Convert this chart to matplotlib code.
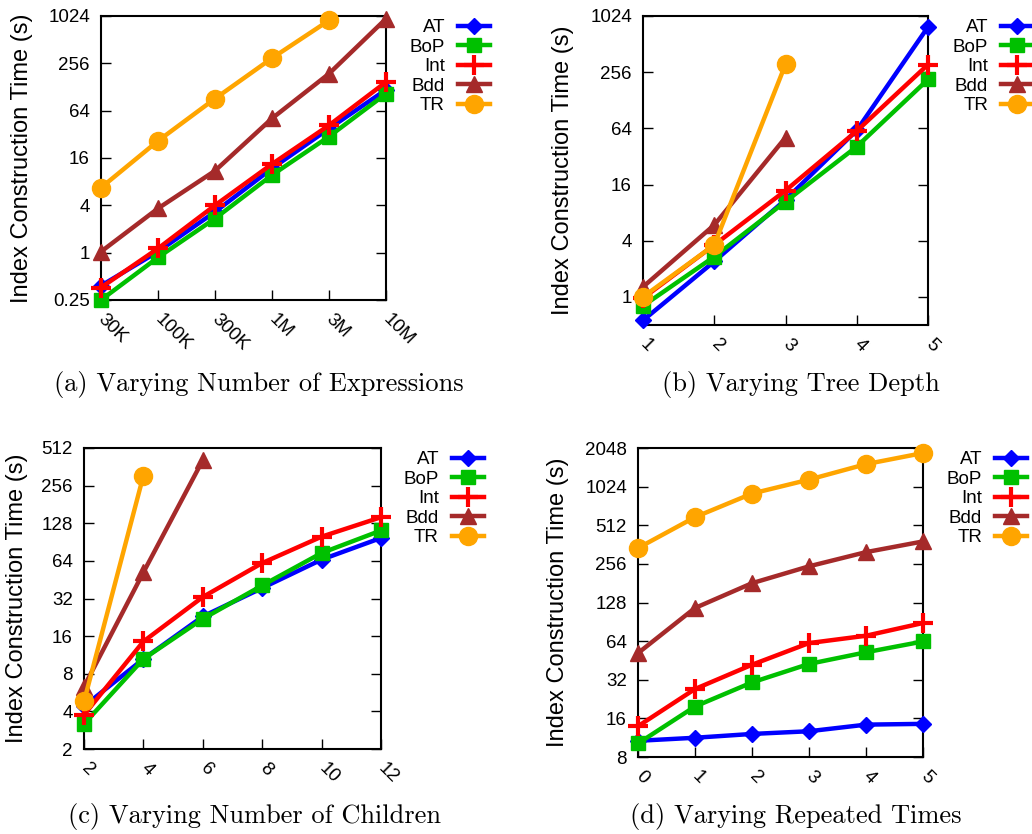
import matplotlib
matplotlib.use("Agg")
import matplotlib.pyplot as plt
from matplotlib.lines import Line2D
import numpy as np

plt.rcParams['font.family'] = ['Liberation Sans', 'DejaVu Sans']

series_names = ["AT", "BoP", "Int", "Bdd", "TR"]

# (a) number of expressions
a_labels = ["30K", "100K", "300K", "1M", "3M", "10M"]
a_AT = [0.38, 1.03, 3.3, 11.8, 37.8, 118]
a_BoP = [0.25, 0.87, 2.72, 9.7, 30, 105]
a_Int = [0.36, 1.13, 4.0, 13.4, 41.7, 148]
a_Bdd = [1.03, 3.65, 11, 51, 189, 944]
a_TR = [6.7, 26.4, 91, 298, 900]

# (b) tree depth
b_labels = ["1", "2", "3", "4", "5"]
b_AT = [0.56, 2.4, 11, 61, 781]
b_BoP = [0.8, 2.7, 10.5, 40.8, 214]
b_Int = [0.97, 3.6, 13.8, 60, 309]
b_Bdd = [1.28, 5.9, 51]
b_TR = [1.0, 3.6, 311]

# (c) number of children
c_labels = ["2", "4", "6", "8", "10", "12"]
c_AT = [4.4, 10.5, 23, 38.8, 65.5, 97.6]
c_BoP = [3.17, 10.5, 22, 40.7, 74, 112]
c_Int = [3.75, 14.5, 32.9, 61.5, 100, 143]
c_Bdd = [6.3, 51.8, 409]
c_TR = [4.8, 308]

# (d) repeated times
d_labels = ["0", "1", "2", "3", "4", "5"]
d_AT = [10.7, 11.3, 12.1, 12.7, 14.3, 14.5]
d_BoP = [10.2, 19.8, 30.5, 42.5, 52.4, 63.6]
d_Int = [13.9, 27.1, 41.9, 61.8, 70.5, 88.6]
d_Bdd = [51.6, 116, 181, 245, 316, 383]
d_TR = [340, 592, 904, 1161, 1533, 1871]

a_yticks = [0.25, 1, 4, 16, 64, 256, 1024]
a_yticklabels = ["0.25", "1", "4", "16", "64", "256", "1024"]
b_yticks = [1, 4, 16, 64, 256, 1024]
c_yticks = [2, 4, 8, 16, 32, 64, 128, 256, 512]
d_yticks = [8, 16, 32, 64, 128, 256, 512, 1024, 2048]

captions = ["(a) Varying Number of Expressions",
            "(b) Varying Tree Depth",
            "(c) Varying Number of Children",
            "(d) Varying Repeated Times"]

styles = {
    "AT": dict(color="#0000ff", marker="D", ms=8, mew=1),
    "BoP": dict(color="#00c000", marker="s", ms=10, mew=1),
    "Int": dict(color="#ff0000", marker="+", ms=14, mew=3),
    "Bdd": dict(color="#a52a2a", marker="^", ms=12, mew=1),
    "TR": dict(color="#ffa500", marker="o", ms=13, mew=1),
}

W, H = 1032, 834
fig = plt.figure(figsize=(W / 100, H / 100), dpi=100)


def px_axes(left, top, right, bottom):
    return fig.add_axes([left / W, 1 - bottom / H, (right - left) / W, (bottom - top) / H])


TICK_FS = 13.5


def draw_panel(ax, labels, data, yticks, yticklabels, ylim, legend_anchor, caption, cap_xy, ylab_x):
    x = np.arange(len(labels))
    for name, vals in zip(series_names, data):
        st = styles[name]
        ax.plot(x[:len(vals)], vals, color=st["color"], lw=3.2, marker=st["marker"],
                ms=st["ms"], mew=st["mew"], mec=st["color"], clip_on=False, zorder=3)
    ax.set_yscale("log", base=2)
    ax.set_ylim(*ylim)
    ax.set_xlim(0, len(labels) - 1)
    ax.yaxis.set_major_locator(matplotlib.ticker.FixedLocator(yticks))
    ax.yaxis.set_minor_locator(matplotlib.ticker.NullLocator())
    ax.set_yticks(yticks)
    ax.set_yticklabels(yticklabels, fontsize=TICK_FS)
    ax.set_xticks(x)
    ax.set_xticklabels(labels, fontsize=TICK_FS, rotation=-45, ha="left", va="center",
                       rotation_mode="anchor")
    ax.tick_params(axis="y", direction="in", length=7, width=1, pad=8, right=True)
    ax.tick_params(axis="x", direction="in", length=7, width=1, pad=12, top=False)
    for sp in ax.spines.values():
        sp.set_linewidth(1.5)
    ax.set_ylabel("Index Construction Time (s)", fontsize=17, va="center")
    ax.yaxis.set_label_coords(ylab_x, 0.5)

    handles = [Line2D([], [], color=styles[n]["color"], lw=3.2, marker=styles[n]["marker"],
                      ms=styles[n]["ms"], mew=styles[n]["mew"]) for n in series_names]
    ax.legend(handles, series_names, loc="upper right",
              bbox_to_anchor=(legend_anchor[0] / W, 1 - legend_anchor[1] / H),
              bbox_transform=fig.transFigure, frameon=False, markerfirst=False,
              fontsize=TICK_FS, handlelength=1.7, handletextpad=0.7, labelspacing=0.13,
              borderpad=0, borderaxespad=0)
    fig.text(cap_xy[0] / W, 1 - cap_xy[1] / H, caption, fontsize=19, family="cmr10",
             ha="center", va="center")


ax_a = px_axes(101, 16, 386, 300)
draw_panel(ax_a, a_labels, [a_AT, a_BoP, a_Int, a_Bdd, a_TR], a_yticks, a_yticklabels,
           (0.25, 1024), (490, 19), captions[0], (259, 385), -0.277)

ax_b = px_axes(643, 16, 928, 325)
draw_panel(ax_b, b_labels, [b_AT, b_BoP, b_Int, b_Bdd, b_TR], b_yticks,
           [str(v) for v in b_yticks], (0.5, 1024), (1033, 19), captions[1], (801, 385), -0.281)

ax_c = px_axes(84, 448, 381, 749)
draw_panel(ax_c, c_labels, [c_AT, c_BoP, c_Int, c_Bdd, c_TR], c_yticks,
           [str(v) for v in c_yticks], (2, 512), (484, 451), captions[2], (254, 817), -0.226)

ax_d = px_axes(638, 448, 923, 757)
draw_panel(ax_d, d_labels, [d_AT, d_BoP, d_Int, d_Bdd, d_TR], d_yticks,
           [str(v) for v in d_yticks], (8, 2048), (1027, 451), captions[3], (796, 817), -0.281)

fig.savefig("out.png", dpi=100)
